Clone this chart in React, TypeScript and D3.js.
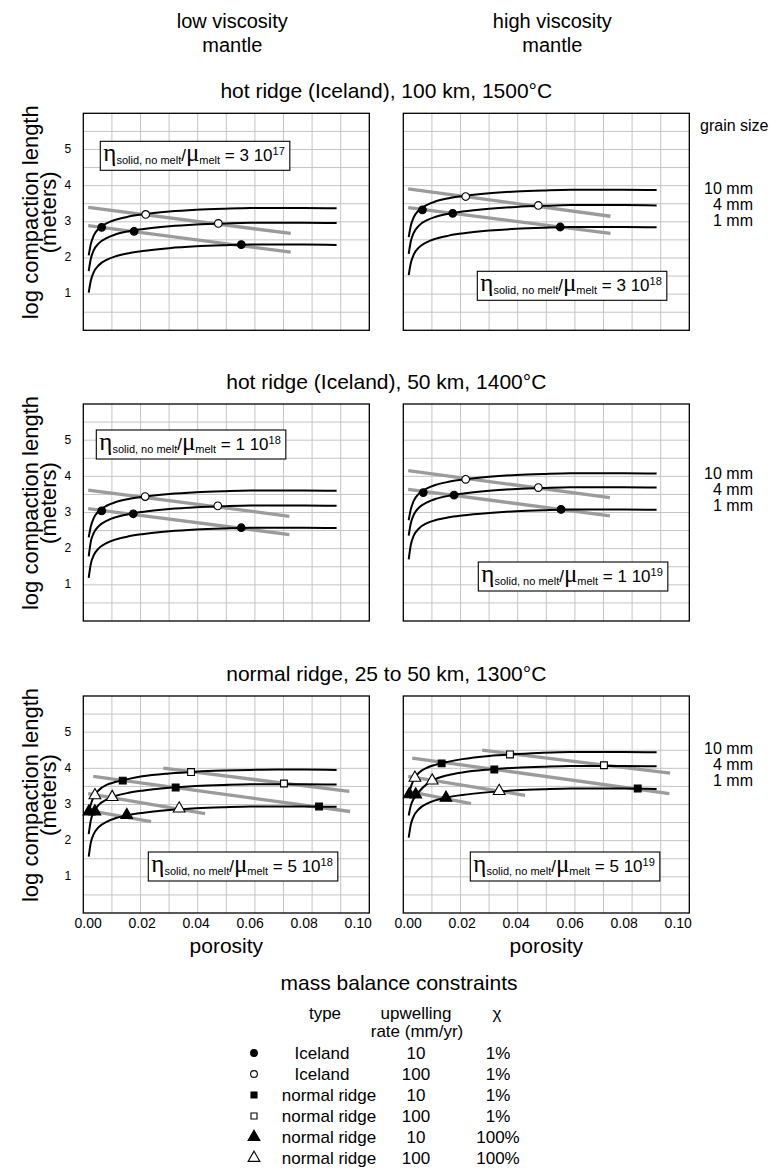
import React, { useRef, useEffect } from 'react';
import * as d3 from 'd3';

const WIDTH = 773;
const HEIGHT = 1169;

// porosity samples used for every compaction-length curve
const porosityGrid = [0.0002, 0.001, 0.002, 0.004, 0.007, 0.01, 0.015, 0.02, 0.03, 0.04, 0.05, 0.06, 0.07, 0.08, 0.092];

// log compaction length (m), curves for 10 mm / 4 mm / 1 mm grain size
const hot100Low10 = [2.04, 2.36, 2.58, 2.79, 2.94, 3.03, 3.12, 3.18, 3.26, 3.31, 3.34, 3.36, 3.36, 3.36, 3.35];
const hot100Low4 = [1.6, 1.95, 2.17, 2.38, 2.53, 2.62, 2.71, 2.77, 2.85, 2.9, 2.93, 2.95, 2.95, 2.95, 2.94];
const hot100Low1 = [1.0, 1.34, 1.56, 1.77, 1.92, 2.01, 2.1, 2.16, 2.24, 2.29, 2.32, 2.34, 2.34, 2.34, 2.33];
const hot100High10 = [2.55, 2.87, 3.09, 3.3, 3.45, 3.54, 3.63, 3.69, 3.77, 3.82, 3.85, 3.87, 3.87, 3.87, 3.86];
const hot100High4 = [2.08, 2.44, 2.66, 2.87, 3.02, 3.11, 3.2, 3.26, 3.34, 3.39, 3.42, 3.44, 3.44, 3.44, 3.43];
const hot100High1 = [1.49, 1.83, 2.05, 2.26, 2.41, 2.5, 2.59, 2.65, 2.73, 2.78, 2.81, 2.83, 2.83, 2.83, 2.82];
const hot50Low10 = [2.28, 2.59, 2.81, 3.02, 3.17, 3.26, 3.35, 3.41, 3.49, 3.54, 3.57, 3.59, 3.59, 3.59, 3.58];
const hot50Low4 = [1.75, 2.17, 2.39, 2.6, 2.75, 2.84, 2.93, 2.99, 3.07, 3.12, 3.15, 3.17, 3.17, 3.17, 3.16];
const hot50Low1 = [1.15, 1.55, 1.77, 1.98, 2.13, 2.22, 2.31, 2.37, 2.45, 2.5, 2.53, 2.55, 2.55, 2.55, 2.54];
const hot50High10 = [2.76, 3.07, 3.29, 3.5, 3.65, 3.74, 3.83, 3.89, 3.97, 4.02, 4.05, 4.07, 4.07, 4.07, 4.06];
const hot50High4 = [2.33, 2.68, 2.9, 3.11, 3.26, 3.35, 3.44, 3.5, 3.58, 3.63, 3.66, 3.68, 3.68, 3.68, 3.67];
const hot50High1 = [1.67, 2.08, 2.32, 2.53, 2.68, 2.76, 2.84, 2.89, 2.96, 3.01, 3.04, 3.06, 3.06, 3.06, 3.05];
const normalLow10 = [2.75, 2.98, 3.18, 3.38, 3.53, 3.6, 3.69, 3.76, 3.84, 3.89, 3.92, 3.94, 3.95, 3.95, 3.94];
const normalLow4 = [2.15, 2.54, 2.76, 2.97, 3.12, 3.21, 3.3, 3.36, 3.44, 3.49, 3.52, 3.54, 3.54, 3.54, 3.53];
const normalLow1 = [1.52, 1.92, 2.14, 2.35, 2.5, 2.59, 2.68, 2.74, 2.82, 2.87, 2.9, 2.92, 2.92, 2.92, 2.91];
const normalHigh10 = [3.2, 3.46, 3.66, 3.86, 4.0, 4.08, 4.17, 4.24, 4.33, 4.38, 4.42, 4.44, 4.44, 4.44, 4.43];
const normalHigh4 = [2.67, 2.95, 3.13, 3.33, 3.55, 3.68, 3.8, 3.87, 3.95, 4.0, 4.03, 4.05, 4.05, 4.05, 4.04];
const normalHigh1 = [2.05, 2.42, 2.64, 2.85, 3.0, 3.09, 3.18, 3.24, 3.32, 3.37, 3.4, 3.42, 3.42, 3.42, 3.41];

// mass balance points: [porosity, log length, legend symbol index]
const markersHot100Low = [[0.005, 2.82, 0], [0.017, 2.71, 0], [0.0567, 2.34, 0], [0.0213, 3.18, 1], [0.0482, 2.93, 1]];
const markersHot100High = [[0.0053, 3.31, 0], [0.0165, 3.21, 0], [0.0563, 2.83, 0], [0.0213, 3.68, 1], [0.0482, 3.43, 1]];
const markersHot50Low = [[0.005, 3.02, 0], [0.0167, 2.94, 0], [0.0567, 2.55, 0], [0.0211, 3.42, 1], [0.048, 3.16, 1]];
const markersHot50High = [[0.0056, 3.53, 0], [0.017, 3.46, 0], [0.0566, 3.06, 0], [0.0213, 3.9, 1], [0.0482, 3.67, 1]];
const markersNormalLow = [
  [0.0003, 2.78, 4], [0.0025, 2.78, 4], [0.0143, 2.68, 4],
  [0.0025, 3.23, 5], [0.0089, 3.18, 5], [0.0337, 2.86, 5],
  [0.0128, 3.64, 2], [0.0324, 3.45, 2], [0.0855, 2.92, 2],
  [0.0381, 3.88, 3], [0.0725, 3.56, 3],
];
const markersNormalHigh = [
  [0.0004, 3.26, 4], [0.0028, 3.25, 4], [0.014, 3.16, 4],
  [0.0025, 3.72, 5], [0.0089, 3.64, 5], [0.0337, 3.35, 5],
  [0.0124, 4.12, 2], [0.0319, 3.95, 2], [0.085, 3.42, 2],
  [0.0377, 4.37, 3], [0.0725, 4.07, 3],
];

// grey mass balance lines: [porosity0, value0, porosity1, value1]
const linesHot100Low = [[0, 3.38, 0.075, 2.65], [0, 2.87, 0.075, 2.13]];
const linesHot100High = [[0, 3.89, 0.0749, 3.13], [0, 3.37, 0.0749, 2.65]];
const linesHot50Low = [[0, 3.6, 0.0745, 2.87], [0, 3.08, 0.0745, 2.36]];
const linesHot50High = [[0, 4.14, 0.0747, 3.39], [0, 3.62, 0.0747, 2.88]];
const linesNormalLow = [[0.0278, 3.99, 0.0967, 3.34], [0.0019, 3.76, 0.097, 2.78], [0, 3.28, 0.0433, 2.72], [0, 2.81, 0.0233, 2.5]];
const linesNormalHigh = [[0.0274, 4.49, 0.097, 3.85], [0.0015, 4.27, 0.0967, 3.28], [0, 3.76, 0.0433, 3.23], [0, 3.34, 0.0233, 3.0]];

const rowTitles = ['hot ridge (Iceland), 100 km, 1500°C', 'hot ridge (Iceland), 50 km, 1400°C', 'normal ridge, 25 to 50 km, 1300°C'];
const columnTitles = [['low viscosity', 'mantle'], ['high viscosity', 'mantle']];
const ratioMantissa = ['3', '3', '1', '1', '5', '5'];
const ratioExponent = ['17', '18', '18', '19', '18', '19'];
const grainSizes = ['10 mm', '4 mm', '1 mm'];
const xTicks = [0, 0.02, 0.04, 0.06, 0.08, 0.1];
const yTicks = [1, 2, 3, 4, 5];

// legend table
const legendType = ['Iceland', 'Iceland', 'normal ridge', 'normal ridge', 'normal ridge', 'normal ridge'];
const legendRate = ['10', '100', '10', '100', '10', '100'];
const legendChi = ['1%', '1%', '1%', '1%', '100%', '100%'];

const SANS = '"Liberation Sans", Arial, Helvetica, sans-serif';
const SERIF = '"Liberation Serif", "DejaVu Serif", serif';

const symbolShapes = [d3.symbolCircle, d3.symbolCircle, d3.symbolSquare, d3.symbolSquare, d3.symbolTriangle, d3.symbolTriangle];
const symbolSizes = [46, 46, 46, 46, 60, 60];
const symbolFilled = [true, false, true, false, true, false];

export default function App() {
  const svgRef = useRef<SVGSVGElement | null>(null);

  useEffect(() => {
    const svg = d3.select(svgRef.current);
    svg.selectAll('*').remove();

    const panelW = 286;
    const panelH = 217;
    const colLeft = [83.3, 403.3];
    const rowTop = [113.3, 404, 696];

    const panels = [
      { row: 0, col: 0, curves: [hot100Low10, hot100Low4, hot100Low1], markers: markersHot100Low, lines: linesHot100Low, box: [17, 28] },
      { row: 0, col: 1, curves: [hot100High10, hot100High4, hot100High1], markers: markersHot100High, lines: linesHot100High, box: [74, 158] },
      { row: 1, col: 0, curves: [hot50Low10, hot50Low4, hot50Low1], markers: markersHot50Low, lines: linesHot50Low, box: [13, 26] },
      { row: 1, col: 1, curves: [hot50High10, hot50High4, hot50High1], markers: markersHot50High, lines: linesHot50High, box: [75, 158] },
      { row: 2, col: 0, curves: [normalLow10, normalLow4, normalLow1], markers: markersNormalLow, lines: linesNormalLow, box: [65, 156] },
      { row: 2, col: 1, curves: [normalHigh10, normalHigh4, normalHigh1], markers: markersNormalHigh, lines: linesNormalHigh, box: [67, 156] },
    ];

    const root = svg.append('g').attr('font-family', SANS).attr('fill', '#000');

    // column headers (two lines each)
    columnTitles.forEach((lines, c) => {
      const cx = colLeft[c] + panelW / 2 + 6;
      lines.forEach((t, i) => {
        root.append('text').attr('x', cx).attr('y', 28 + i * 24).attr('text-anchor', 'middle')
          .attr('font-size', 20).text(t);
      });
    });

    // row titles + y axis titles + grain size labels
    rowTitles.forEach((t, r) => {
      root.append('text').attr('x', (colLeft[0] + colLeft[1] + panelW) / 2).attr('y', rowTop[r] - 15)
        .attr('text-anchor', 'middle').attr('font-size', 21).text(t);
      const cy = rowTop[r] + 99;
      root.append('text').attr('transform', `translate(38,${cy}) rotate(-90)`)
        .attr('text-anchor', 'middle').attr('font-size', 22).text('log compaction length');
      root.append('text').attr('transform', `translate(56,${cy}) rotate(-90)`)
        .attr('text-anchor', 'middle').attr('font-size', 22).text('(meters)');
      grainSizes.forEach((gs, i) => {
        const base = [194, 479, 754][r];
        root.append('text').attr('x', 753).attr('y', base + i * 16).attr('text-anchor', 'end')
          .attr('font-size', 16).text(gs);
      });
    });
    root.append('text').attr('x', 700).attr('y', 131).attr('font-size', 16).text('grain size');

    panels.forEach((p, idx) => {
      const left = colLeft[p.col];
      const top = rowTop[p.row];
      const x = d3.scaleLinear().domain([-0.0018, 0.1041]).range([left, left + panelW]);
      const y = d3.scaleLinear().domain([-0.05, 6]).range([top + panelH, top]);
      const g = root.append('g');

      // background grid (10 x 12 cells)
      d3.range(1, 10).forEach((i) => {
        const gx = left + (i * panelW) / 10;
        g.append('line').attr('x1', gx).attr('x2', gx).attr('y1', top).attr('y2', top + panelH)
          .attr('stroke', '#c4c4c4').attr('stroke-width', 1);
      });
      d3.range(1, 12).forEach((i) => {
        const gy = top + (i * panelH) / 12;
        g.append('line').attr('x1', left).attr('x2', left + panelW).attr('y1', gy).attr('y2', gy)
          .attr('stroke', '#c4c4c4').attr('stroke-width', 1);
      });

      // mass balance lines
      p.lines.forEach((l) => {
        g.append('line').attr('x1', x(l[0])).attr('y1', y(l[1])).attr('x2', x(l[2])).attr('y2', y(l[3]))
          .attr('stroke', '#9b9b9b').attr('stroke-width', 3.3);
      });

      // compaction length curves
      const line = d3.line<number>().x((d, i) => x(porosityGrid[i])).y((d) => y(d)).curve(d3.curveMonotoneX);
      p.curves.forEach((c) => {
        g.append('path').datum(c).attr('d', line).attr('fill', 'none')
          .attr('stroke', '#000').attr('stroke-width', 2);
      });

      // markers
      p.markers.forEach((m) => {
        const s = m[2];
        g.append('path')
          .attr('d', d3.symbol().type(symbolShapes[s]).size(symbolSizes[s])())
          .attr('transform', `translate(${x(m[0])},${y(m[1])})`)
          .attr('fill', symbolFilled[s] ? '#000' : '#fff')
          .attr('stroke', '#000').attr('stroke-width', 1.1);
      });

      // frame
      g.append('rect').attr('x', left).attr('y', top).attr('width', panelW).attr('height', panelH)
        .attr('fill', 'none').attr('stroke', '#000').attr('stroke-width', 1.3);

      // viscosity ratio box
      const bx = left + p.box[0];
      const by = top + p.box[1];
      const t = g.append('text').attr('x', bx + 3).attr('y', by + 20).attr('font-size', 17)
        .style('white-space', 'pre');
      t.append('tspan').attr('font-family', SERIF).attr('font-size', 25).text('η');
      t.append('tspan').attr('font-size', 11).attr('dy', 3).text('solid, no melt');
      t.append('tspan').attr('font-size', 17).attr('dy', -3).text('/');
      t.append('tspan').attr('font-family', SERIF).attr('font-size', 25).text('μ');
      t.append('tspan').attr('font-size', 11).attr('dy', 3).text('melt');
      t.append('tspan').attr('font-size', 17).attr('dy', -3).text(` = ${ratioMantissa[idx]} 10`);
      t.append('tspan').attr('font-size', 11).attr('dy', -6).text(ratioExponent[idx]);
      const bb = (t.node() as SVGTextElement).getBBox();
      g.insert('rect', () => t.node() as any).attr('x', bx).attr('y', by)
        .attr('width', bb.x + bb.width - bx + 5).attr('height', 29)
        .attr('fill', '#fff').attr('stroke', '#000').attr('stroke-width', 1.1);

      // y tick labels on the left column
      if (p.col === 0) {
        yTicks.forEach((v) => {
          g.append('text').attr('x', left - 12).attr('y', y(v)).attr('dy', '0.36em')
            .attr('text-anchor', 'end').attr('font-size', 12).text(v);
        });
      }
      // x ticks and title on the bottom row
      if (p.row === 2) {
        xTicks.forEach((v) => {
          g.append('text').attr('x', x(v)).attr('y', top + panelH + 15).attr('text-anchor', 'middle')
            .attr('font-size', 14).text(d3.format('.2f')(v));
        });
        g.append('text').attr('x', left + panelW / 2).attr('y', top + panelH + 40)
          .attr('text-anchor', 'middle').attr('font-size', 21).text('porosity');
      }
    });

    // legend
    const lg = root.append('g');
    lg.append('text').attr('x', 399).attr('y', 990).attr('text-anchor', 'middle').attr('font-size', 21)
      .text('mass balance constraints');
    lg.append('text').attr('x', 325).attr('y', 1019).attr('text-anchor', 'middle').attr('font-size', 17).text('type');
    lg.append('text').attr('x', 416).attr('y', 1019).attr('text-anchor', 'middle').attr('font-size', 17).text('upwelling');
    lg.append('text').attr('x', 417).attr('y', 1037).attr('text-anchor', 'middle').attr('font-size', 17).text('rate (mm/yr)');
    lg.append('text').attr('x', 497).attr('y', 1019).attr('text-anchor', 'middle').attr('font-size', 17).text('χ');
    legendType.forEach((tp, i) => {
      const cy = 1053 + i * 21;
      lg.append('path')
        .attr('d', d3.symbol().type(symbolShapes[i]).size(i < 4 ? 36 : 60)())
        .attr('transform', `translate(254,${cy})`)
        .attr('fill', symbolFilled[i] ? '#000' : '#fff')
        .attr('stroke', '#000').attr('stroke-width', 1.1);
      lg.append('text').attr('x', tp === 'Iceland' ? 322 : 329).attr('y', cy + 6).attr('text-anchor', 'middle')
        .attr('font-size', 17).text(tp);
      lg.append('text').attr('x', 416).attr('y', cy + 6).attr('text-anchor', 'middle').attr('font-size', 17).text(legendRate[i]);
      lg.append('text').attr('x', 498).attr('y', cy + 6).attr('text-anchor', 'middle').attr('font-size', 17).text(legendChi[i]);
    });
  }, []);

  return (
    <svg
      ref={svgRef}
      width={WIDTH}
      height={HEIGHT}
      style={{ position: 'absolute', left: 0, top: 0, background: '#fff', display: 'block' }}
    />
  );
}
